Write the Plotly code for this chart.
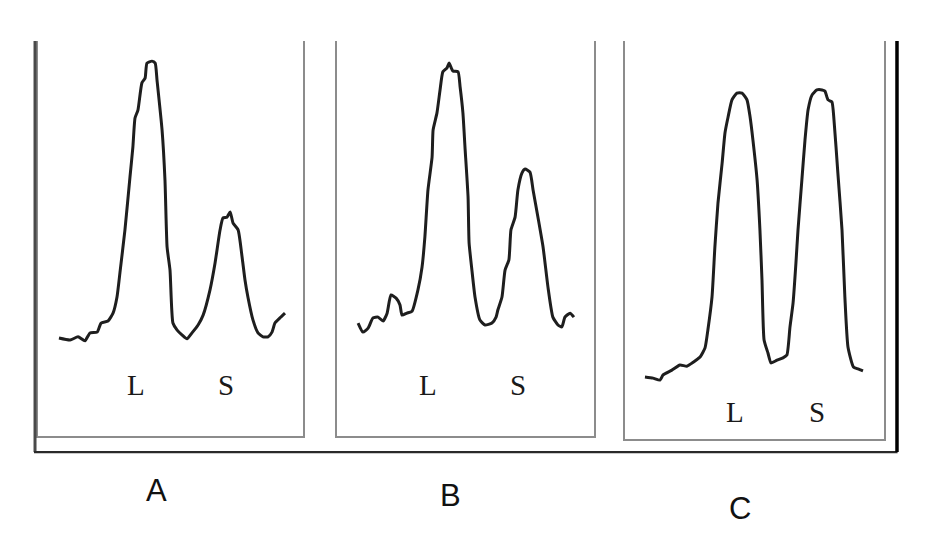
import plotly.graph_objects as go

# Densitometric scans (relative position 0-100, relative density 0-100)
pos_A = [7.9, 12.1, 15.1, 17.7, 19.6, 22.3, 23.8, 26.4, 28.3, 29.8, 30.9, 32.8, 34.7, 35.8, 36.6, 37.7,
         39.2, 40.4, 41.1, 43.0, 44.2, 44.9, 46.8, 47.9, 48.7, 49.8, 50.9, 52.5, 54.3, 56.2, 58.1, 60.4,
         62.3, 64.9, 66.8, 68.7, 69.8, 71.3, 72.5, 73.6, 75.5, 77.0, 78.1, 79.2, 81.1, 83.0, 84.9, 86.8,
         88.3, 89.4, 91.3, 93.2]
dens_A = [24.8, 24.3, 25.1, 24.1, 26.1, 26.3, 28.6, 29.1, 31.1, 35.2, 41.3, 52.2, 65.6, 73.2, 80.5, 82.5,
          89.4, 90.6, 94.4, 94.9, 94.4, 90.1, 77.5, 64.8, 47.8, 42.0, 28.6, 26.8, 25.6, 24.6, 26.1, 28.1,
          30.6, 37.0, 43.8, 52.2, 55.2, 55.4, 56.7, 53.9, 52.2, 45.3, 39.5, 35.2, 29.4, 26.1, 25.1, 25.1,
          26.3, 28.6, 29.9, 31.1]

pos_B = [8.2, 10.1, 12.1, 14.0, 16.0, 17.9, 19.5, 21.0, 23.0, 24.5, 25.3, 27.2, 29.2, 31.5, 33.1, 34.2,
         35.4, 37.0, 37.4, 38.9, 40.1, 41.2, 42.8, 43.6, 45.1, 47.1, 47.9, 49.0, 49.8, 51.0, 51.4, 52.5,
         53.7, 55.6, 57.6, 60.3, 61.9, 62.6, 64.2, 65.4, 66.9, 67.7, 69.3, 70.4, 72.0, 73.2, 75.1, 76.3,
         78.2, 80.2, 82.1, 84.0, 86.0, 87.5, 88.7, 90.7, 92.2]
dens_B = [28.6, 26.3, 27.3, 29.9, 30.1, 29.1, 31.1, 35.7, 34.9, 33.2, 30.6, 31.1, 31.6, 37.0, 42.8, 50.4,
          62.3, 70.6, 77.5, 81.8, 87.6, 92.2, 93.2, 94.4, 92.4, 92.2, 88.4, 81.8, 73.2, 60.5, 48.9, 42.0,
          35.2, 29.4, 28.1, 28.6, 30.1, 31.9, 35.2, 42.0, 44.6, 52.2, 55.4, 62.3, 66.6, 67.6, 66.8, 62.3,
          55.4, 47.8, 37.7, 30.1, 28.1, 27.6, 30.1, 31.1, 30.1]

pos_C = [7.7, 10.8, 13.5, 14.7, 18.1, 21.2, 23.9, 25.9, 27.4, 29.0, 30.9, 32.0, 33.6, 34.7, 35.9, 37.5,
         38.6, 39.8, 41.3, 43.2, 45.2, 47.1, 48.3, 49.4, 51.0, 52.1, 52.9, 53.7, 55.2, 56.4, 58.7, 61.0,
         62.5, 63.7, 64.9, 66.0, 66.8, 68.3, 69.5, 70.7, 72.2, 74.1, 76.1, 77.2, 78.4, 79.9, 80.7, 82.2,
         83.8, 84.9, 86.1, 88.2, 90.0, 91.9]
dens_C = [15.6, 15.3, 14.8, 16.1, 17.3, 18.6, 18.3, 19.1, 19.8, 20.6, 22.9, 27.4, 35.7, 48.2, 59.3, 69.3,
          76.9, 80.9, 85.2, 86.9, 86.9, 85.2, 80.9, 75.1, 65.1, 52.5, 39.9, 24.9, 21.6, 19.1, 19.8, 20.4,
          21.1, 28.1, 34.2, 44.2, 52.5, 65.1, 75.1, 82.7, 86.4, 87.7, 87.7, 87.4, 85.2, 84.7, 80.2, 66.8,
          52.5, 35.7, 23.1, 18.1, 17.6, 17.1]

panel_names = ["A", "B", "C"]
band_labels = ["L", "S"]
band_pos = {"A": [37.0, 71.0], "B": [35.4, 70.4], "C": [42.5, 74.1]}
band_y = {"A": 12.9, "B": 12.9, "C": 6.8}

series = {"A": (pos_A, dens_A), "B": (pos_B, dens_B), "C": (pos_C, dens_C)}

x_domains = {"A": [0.0403, 0.3210], "B": [0.3570, 0.6292], "C": [0.6621, 0.9364]}
y_domains = {"A": [0.2158, 0.9263], "B": [0.2158, 0.9263], "C": [0.2104, 0.9263]}
caption_xy = {"A": (0.1653, 0.1187), "B": (0.4767, 0.1097), "C": (0.7839, 0.0863)}

fig = go.Figure()
annotations = []
layout_axes = {}
for i, name in enumerate(panel_names):
    suffix = "" if i == 0 else str(i + 1)
    xs, ys = series[name]
    fig.add_trace(go.Scatter(
        x=xs, y=ys, mode="lines",
        line=dict(color="#1e1e1e", width=3, shape="spline", smoothing=0.5),
        xaxis="x" + suffix, yaxis="y" + suffix, showlegend=False, hoverinfo="skip"))
    layout_axes["xaxis" + suffix] = dict(
        domain=x_domains[name], range=[0, 100], showgrid=False, zeroline=False,
        showticklabels=False, ticks="", showline=True, linecolor="#8c8c8c", linewidth=1.6,
        mirror=False, anchor="y" + suffix, fixedrange=True)
    layout_axes["yaxis" + suffix] = dict(
        domain=y_domains[name], range=[0, 100], showgrid=False, zeroline=False,
        showticklabels=False, ticks="", showline=True, linecolor="#8c8c8c", linewidth=1.6,
        mirror=True, anchor="x" + suffix, fixedrange=True)
    for lab, px in zip(band_labels, band_pos[name]):
        annotations.append(dict(
            x=px, y=band_y[name], xref="x" + suffix, yref="y" + suffix, text=lab,
            xanchor="center", yanchor="middle",
            showarrow=False, font=dict(family="Liberation Serif, Times New Roman, serif",
                                       size=29, color="#1a1a1a")))
    cx, cy = caption_xy[name]
    annotations.append(dict(
        x=cx, y=cy, xref="paper", yref="paper", text=name, showarrow=False,
        xanchor="center", yanchor="middle",
        font=dict(family="Liberation Sans, Arial, sans-serif", size=31, color="#111111")))

shapes = [
    dict(type="line", xref="paper", yref="paper", x0=0.0371, x1=0.0371, y0=0.187, y1=0.9263,
         line=dict(color="#4a4a4a", width=3)),
    dict(type="line", xref="paper", yref="paper", x0=0.036, x1=0.9508, y0=0.187, y1=0.187,
         line=dict(color="#2a2a2a", width=2.2)),
    dict(type="line", xref="paper", yref="paper", x0=0.9502, x1=0.9502, y0=0.187, y1=0.9263,
         line=dict(color="#000000", width=3.5)),
]

fig.update_layout(
    width=944, height=556,
    margin=dict(l=0, r=0, t=0, b=0),
    paper_bgcolor="white", plot_bgcolor="white",
    annotations=annotations, shapes=shapes,
    **layout_axes)

fig.write_html("out.html", config={"displayModeBar": False},
               post_script="document.body.style.margin='0';document.body.style.overflow='hidden';")
